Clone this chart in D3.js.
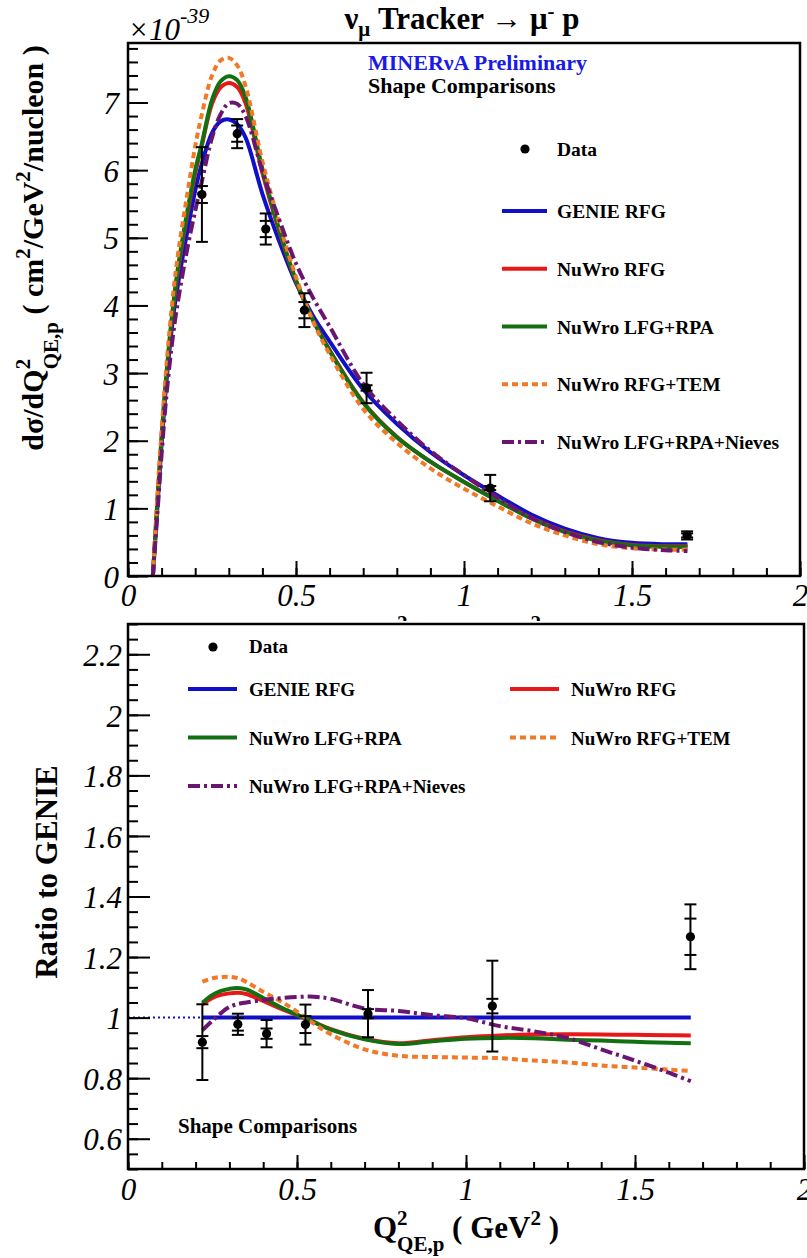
<!DOCTYPE html>
<html><head><meta charset="utf-8">
<script src="https://cdn.jsdelivr.net/npm/d3@7"></script>
<style>
body{margin:0;background:#fff;}
</style></head><body>
<svg id="c" width="807" height="1258" style="background:#fff"></svg>
<script>
// ---------------- data ----------------
const qTop = [0.074,0.09,0.10,0.115,0.135,0.15,0.175,0.2,0.22,0.25,0.275,0.3,0.325,0.35,0.4,0.45,0.5,0.55,0.6,0.7,0.8,0.9,1.0,1.1,1.2,1.3,1.4,1.5,1.6,1.665];
const genieTop   = [0,1.2,1.95,2.9,3.85,4.35,5.05,5.7,6.1,6.55,6.72,6.75,6.68,6.48,5.65,4.95,4.33,3.85,3.47,2.76,2.25,1.83,1.49,1.19,0.91,0.70,0.56,0.49,0.47,0.47];
const nuwroRFGTop= [0,1.3,2.05,3.0,4.0,4.55,5.3,5.95,6.37,6.98,7.22,7.29,7.23,6.99,5.96,5.10,4.36,3.79,3.34,2.57,2.06,1.69,1.39,1.12,0.86,0.66,0.53,0.46,0.44,0.44];
const lfgRpaTop  = [0,1.3,2.05,3.02,4.02,4.6,5.35,6.0,6.40,7.04,7.31,7.39,7.33,7.08,6.02,5.12,4.37,3.79,3.33,2.56,2.05,1.69,1.39,1.11,0.85,0.65,0.52,0.45,0.43,0.43];
const rfgTemTop  = [0,1.4,2.15,3.15,4.2,4.8,5.6,6.35,6.83,7.40,7.62,7.66,7.55,7.24,6.13,5.22,4.42,3.77,3.28,2.47,1.97,1.59,1.29,1.03,0.78,0.60,0.47,0.41,0.39,0.39];
const nievesTop  = [0,1.1,1.8,2.7,3.6,4.1,4.8,5.4,5.84,6.48,6.82,6.99,6.98,6.80,5.98,5.27,4.62,4.12,3.69,2.84,2.30,1.85,1.49,1.16,0.86,0.65,0.50,0.42,0.38,0.37];

const qRatio = [0.22,0.25,0.275,0.3,0.325,0.35,0.4,0.45,0.5,0.55,0.6,0.7,0.8,0.9,1.0,1.1,1.2,1.3,1.4,1.5,1.6,1.665];
const genieRatio  = [1,1,1,1,1,1,1,1,1,1,1,1,1,1,1,1,1,1,1,1,1,1];
const nuwroRFGRatio=[1.044,1.065,1.075,1.08,1.082,1.078,1.055,1.03,1.008,0.985,0.962,0.93,0.915,0.925,0.935,0.941,0.944,0.945,0.944,0.943,0.942,0.941];
const lfgRpaRatio = [1.049,1.075,1.088,1.095,1.098,1.093,1.065,1.035,1.01,0.985,0.96,0.928,0.913,0.922,0.93,0.933,0.932,0.927,0.924,0.92,0.917,0.915];
const rfgTemRatio = [1.119,1.13,1.134,1.135,1.13,1.118,1.085,1.055,1.02,0.98,0.945,0.895,0.874,0.87,0.868,0.866,0.858,0.852,0.842,0.835,0.828,0.824];
const nievesRatio = [0.958,0.99,1.015,1.035,1.045,1.05,1.058,1.064,1.068,1.069,1.062,1.03,1.022,1.008,0.998,0.972,0.955,0.933,0.895,0.858,0.818,0.79];

const qData = [0.22,0.325,0.41,0.525,0.71,1.078,1.664];
const xsecData = [5.64,6.54,5.13,3.93,2.78,1.30,0.60];
const xsecTotErr = [0.70,0.215,0.23,0.25,0.225,0.195,0.06];
const xsecStatErr = [0.125,0.12,0.12,0.12,0.04,0.03,0.03];
const ratioData = [0.919,0.978,0.947,0.977,1.013,1.038,1.267];
const ratioTotErr = [0.125,0.035,0.045,0.066,0.078,0.15,0.107];
const ratioStatErr = [0.02,0.021,0.017,0.028,0.015,0.024,0.06];

const seriesNames = ["GENIE RFG","NuWro RFG","NuWro LFG+RPA","NuWro RFG+TEM","NuWro LFG+RPA+Nieves"];
const seriesColors = ["#1010c8","#e81818","#127012","#f07a28","#6a1670"];
const seriesDash = [null,null,null,"6,4","12,4,3,4"];

const xTickVals = [0,0.5,1,1.5,2];
const xTickLabels = ["0","0.5","1","1.5","2"];
const yTopTickVals = [0,1,2,3,4,5,6,7];
const yTopTickLabels = ["0","1","2","3","4","5","6","7"];
const yBotTickVals = [0.6,0.8,1,1.2,1.4,1.6,1.8,2,2.2];
const yBotTickLabels = ["0.6","0.8","1","1.2","1.4","1.6","1.8","2","2.2"];

// ---------------- drawing ----------------
const FONT = "'Liberation Serif'";
const svg = d3.select('#c');

const xT = d3.scaleLinear().domain([0,2]).range([128,800]);
const yT = d3.scaleLinear().domain([0,7.88]).range([576,43]);
const xB = d3.scaleLinear().domain([0,2]).range([128,804]);
const yB = d3.scaleLinear().domain([0.5,2.3]).range([1169,624]);

function styleAxis(g){
  g.attr('font-family',null).attr('font-size',null);
  g.select('.domain').remove();
  g.selectAll('line').attr('stroke','#000').attr('stroke-width',2);
  g.selectAll('text').style('font-family',FONT).attr('font-style','italic')
   .attr('font-size',31).attr('fill','#000');
}

function drawAxes(x, y, yMaj, yLab, yMinStep, L){
  const [yb] = y.range(); const [xl] = x.range();
  const xMinor = d3.range(0, 2.0001, 0.1);
  const yMinor = d3.range(y.domain()[0], y.domain()[1]+1e-9, yMinStep);
  svg.append('g').attr('transform',`translate(0,${yb})`)
    .call(d3.axisBottom(x).tickValues(xMinor).tickSizeInner(-L.xmin).tickSizeOuter(0).tickFormat(''))
    .call(styleAxis);
  svg.append('g').attr('transform',`translate(0,${yb})`)
    .call(d3.axisBottom(x).tickValues(xTickVals).tickFormat((d,i)=>xTickLabels[i])
      .tickSizeInner(-L.xmaj).tickSizeOuter(0).tickPadding(L.xpad))
    .call(styleAxis);
  svg.append('g').attr('transform',`translate(${xl},0)`)
    .call(d3.axisLeft(y).tickValues(yMinor).tickSizeInner(-L.ymin).tickSizeOuter(0).tickFormat(''))
    .call(styleAxis);
  const ga = svg.append('g').attr('transform',`translate(${xl},0)`)
    .call(d3.axisLeft(y).tickValues(yMaj).tickFormat((d,i)=>yLab[i])
      .tickSizeInner(-L.ymaj).tickSizeOuter(0).tickPadding(L.ypad))
    .call(styleAxis);
  ga.selectAll('text').attr('dy','0.36em');
}

function rich(text, parts, base, small, up, down){
  let cur = 0, prev = null;
  parts.forEach(p=>{
    const target = p.k==='sup' ? -up : p.k==='sub' ? down : 0;
    const ts = text.append('tspan').text(p.t)
      .attr('dy', target-cur).attr('font-size', p.k ? small : base);
    if (p.under && prev) ts.attr('dx', -prev.node().getComputedTextLength());
    cur = target; prev = ts;
  });
}

function addText(x, y, str, size, opts){
  const t = svg.append('text').attr('x',x).attr('y',y).style('font-family',FONT)
    .attr('font-size',size).attr('fill',(opts&&opts.fill)||'#000').text(str);
  if (!opts || opts.bold!==false) t.attr('font-weight','bold');
  return t;
}

function drawCurves(g, x, y, qs, seriesList){
  const line = d3.line().x((d,i)=>x(qs[i])).y(d=>y(d)).curve(d3.curveCatmullRom.alpha(0.5));
  seriesList.forEach((vals, i)=>{
    g.append('path').attr('d', line(vals)).attr('fill','none')
      .attr('stroke', seriesColors[i]).attr('stroke-width',4)
      .attr('stroke-dasharray', seriesDash[i]).attr('stroke-linejoin','round');
  });
}

function drawData(g, x, y, vals, tot, stat){
  qData.forEach((q,i)=>{
    const cx = x(q), v = vals[i];
    g.append('line').attr('x1',cx).attr('x2',cx).attr('y1',y(v-tot[i])).attr('y2',y(v+tot[i]))
      .attr('stroke','#000').attr('stroke-width',2);
    [v-tot[i], v+tot[i], v-stat[i], v+stat[i]].forEach(e=>{
      g.append('line').attr('x1',cx-6).attr('x2',cx+6).attr('y1',y(e)).attr('y2',y(e))
        .attr('stroke','#000').attr('stroke-width',2);
    });
    g.append('circle').attr('cx',cx).attr('cy',y(v)).attr('r',4.6).attr('fill','#000');
  });
}

// ===== TOP PANEL =====
svg.append('defs').append('clipPath').attr('id','clipT').append('rect')
  .attr('x',128).attr('y',43).attr('width',672).attr('height',533);
const gT = svg.append('g').attr('clip-path','url(#clipT)');
drawCurves(gT, xT, yT, qTop, [genieTop, nuwroRFGTop, lfgRpaTop, rfgTemTop, nievesTop]);
drawData(svg.append('g'), xT, yT, xsecData, xsecTotErr, xsecStatErr);

drawAxes(xT, yT, yTopTickVals, yTopTickLabels, 0.2, {xmin:8, xmaj:15, ymin:10, ymaj:20, xpad:8, ypad:9});
svg.append('rect').attr('x',128).attr('y',43).attr('width',672).attr('height',533)
  .attr('fill','none').attr('stroke','#000').attr('stroke-width',2.5);

// title
const tt = svg.append('text').attr('x',462).attr('y',29).attr('text-anchor','middle')
  .style('font-family',FONT).attr('font-weight','bold').attr('fill','#000');
rich(tt,[{t:'ν'},{t:'μ',k:'sub'},{t:' Tracker → μ'},{t:'-',k:'sup'},{t:' p'}],31,21,11,7);

// exponent
const ex = svg.append('text').attr('x',128).attr('y',40).style('font-family',FONT)
  .attr('font-style','italic').attr('fill','#000');
rich(ex,[{t:'×10'},{t:'-39',k:'sup'}],31,22,17,0);

// labels
addText(368, 70, 'MINERνA Preliminary', 22, {fill:'#1a1ae6'});
addText(368, 93, 'Shape Comparisons', 22);

// top legend
svg.append('circle').attr('cx',525).attr('cy',149).attr('r',4.6).attr('fill','#000');
addText(557, 156, 'Data', 19.5);
seriesNames.forEach((n,i)=>{
  const yy = 211 + i*57.75;
  svg.append('line').attr('x1',502).attr('x2',547).attr('y1',yy).attr('y2',yy)
    .attr('stroke',seriesColors[i]).attr('stroke-width',4).attr('stroke-dasharray',seriesDash[i]);
  addText(557, yy+7, n, 19.5);
});

// top y title
const yt = svg.append('text').attr('transform','translate(43,248) rotate(-90)')
  .attr('text-anchor','middle').style('font-family',FONT).attr('font-weight','bold').attr('fill','#000');
rich(yt,[{t:'dσ/dQ'},{t:'2',k:'sup'},{t:'QE,p',k:'sub',under:true},{t:' ( cm'},{t:'2',k:'sup'},{t:'/GeV'},{t:'2',k:'sup'},{t:'/nucleon )'}],30,21,13,15);

// x title (top copy is mostly hidden under lower pad)
function xTitle(yBase){
  const t = svg.append('text').attr('x',466).attr('y',yBase).attr('text-anchor','middle')
    .style('font-family',FONT).attr('font-weight','bold').attr('fill','#000');
  rich(t,[{t:'Q'},{t:'2',k:'sup'},{t:'QE,p',k:'sub',under:true},{t:' ( GeV'},{t:'2',k:'sup'},{t:' )'}],31,21,13,13);
}
xTitle(643);

// ===== BOTTOM PANEL =====
svg.append('rect').attr('x',0).attr('y',621).attr('width',807).attr('height',637).attr('fill','#fff');

svg.append('defs').append('clipPath').attr('id','clipB').append('rect')
  .attr('x',128).attr('y',624).attr('width',676).attr('height',545);
const gB = svg.append('g').attr('clip-path','url(#clipB)');
gB.append('line').attr('x1',xB(0)).attr('x2',xB(qRatio[0])).attr('y1',yB(1)).attr('y2',yB(1))
  .attr('stroke',seriesColors[0]).attr('stroke-width',2).attr('stroke-dasharray','2,3');
drawCurves(gB, xB, yB, qRatio, [genieRatio, nuwroRFGRatio, lfgRpaRatio, rfgTemRatio, nievesRatio]);
drawData(svg.append('g'), xB, yB, ratioData, ratioTotErr, ratioStatErr);

drawAxes(xB, yB, yBotTickVals, yBotTickLabels, 0.05, {xmin:7, xmaj:14, ymin:10, ymaj:22, xpad:9, ypad:6});
svg.append('rect').attr('x',128).attr('y',624).attr('width',676).attr('height',545)
  .attr('fill','none').attr('stroke','#000').attr('stroke-width',2.5);

// bottom legend
svg.append('circle').attr('cx',213).attr('cy',647).attr('r',4.6).attr('fill','#000');
addText(249, 653, 'Data', 19);
const legCol = [0,1,0,1,0], legRow = [0,0,1,1,2];
seriesNames.forEach((n,i)=>{
  const x0 = legCol[i] ? 510 : 188;
  const yy = 689 + legRow[i]*48.5;
  svg.append('line').attr('x1',x0).attr('x2',x0+49).attr('y1',yy).attr('y2',yy)
    .attr('stroke',seriesColors[i]).attr('stroke-width',4).attr('stroke-dasharray',seriesDash[i]);
  addText(x0+61, yy+7, n, 19);
});
addText(178, 1133, 'Shape Comparisons', 21);

// bottom y title
svg.append('text').attr('transform','translate(57,872) rotate(-90)').attr('text-anchor','middle')
  .style('font-family',FONT).attr('font-weight','bold').attr('font-size',31).attr('fill','#000')
  .text('Ratio to GENIE');

xTitle(1238);
</script>
</body></html>
